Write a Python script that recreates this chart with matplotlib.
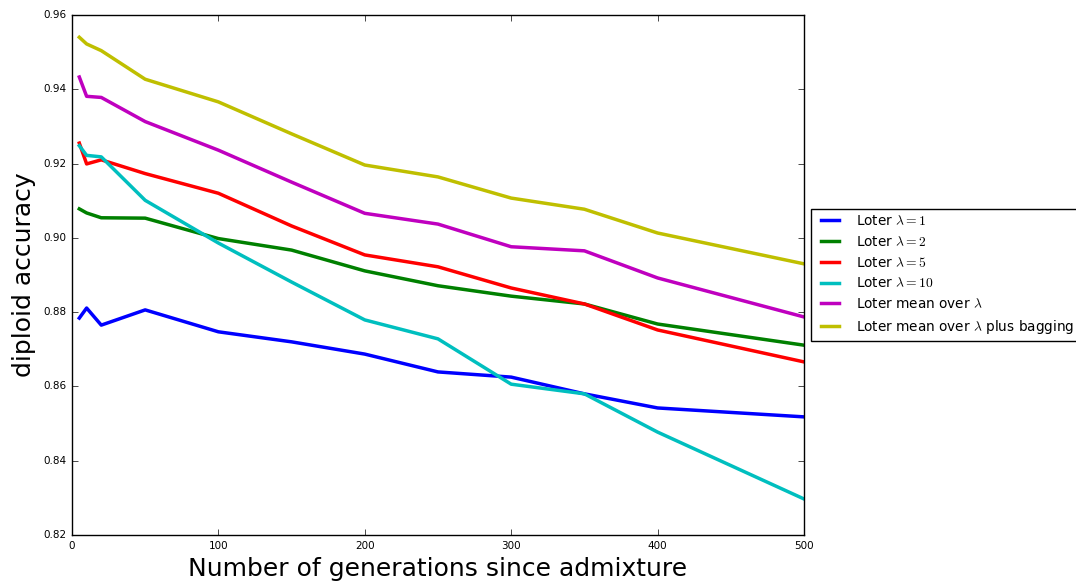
import matplotlib
matplotlib.use('Agg')
import matplotlib.pyplot as plt

plt.style.use('classic')

generations = [5, 10, 20, 50, 100, 150, 200, 250, 300, 350, 400, 500]

loter1 = [0.8784, 0.8811, 0.8765, 0.8806, 0.8747, 0.8720, 0.8687, 0.8639, 0.8625, 0.8580, 0.8542, 0.8518]
loter2 = [0.9078, 0.9067, 0.9054, 0.9053, 0.8998, 0.8967, 0.8911, 0.8871, 0.8843, 0.8822, 0.8768, 0.8711]
loter5 = [0.9255, 0.9199, 0.9210, 0.9173, 0.9120, 0.9032, 0.8954, 0.8922, 0.8865, 0.8822, 0.8752, 0.8666]
loter10 = [0.9248, 0.9222, 0.9218, 0.9101, 0.8986, 0.8881, 0.8779, 0.8728, 0.8606, 0.8580, 0.8477, 0.8297]
mean_l = [0.9433, 0.9381, 0.9378, 0.9313, 0.9236, 0.9150, 0.9066, 0.9037, 0.8976, 0.8965, 0.8892, 0.8787]
mean_bag = [0.9540, 0.9522, 0.9504, 0.9427, 0.9366, 0.9280, 0.9196, 0.9164, 0.9107, 0.9077, 0.9013, 0.8930]

fig = plt.figure(figsize=(10.76, 5.85), dpi=100, facecolor='white')
ax = fig.add_axes([0.0669, 0.0855, 0.6803, 0.8889])

ax.plot(generations, loter1, 'b', lw=2.5, label=r'Loter $\lambda = 1$')
ax.plot(generations, loter2, 'g', lw=2.5, label=r'Loter $\lambda = 2$')
ax.plot(generations, loter5, 'r', lw=2.5, label=r'Loter $\lambda = 5$')
ax.plot(generations, loter10, 'c', lw=2.5, label=r'Loter $\lambda = 10$')
ax.plot(generations, mean_l, 'm', lw=2.5, label=r'Loter mean over $\lambda$')
ax.plot(generations, mean_bag, 'y', lw=2.5, label=r'Loter mean over $\lambda$ plus bagging')

ax.set_xlim(0, 500)
ax.set_ylim(0.82, 0.96)
ax.set_xticks([0, 100, 200, 300, 400, 500])
ax.set_yticks([0.82, 0.84, 0.86, 0.88, 0.90, 0.92, 0.94, 0.96])
ax.tick_params(labelsize=7.5)
ax.set_xlabel('Number of generations since admixture', fontsize=18)
ax.set_ylabel('diploid accuracy', fontsize=18)

ax.legend(loc='center left', bbox_to_anchor=(1.01, 0.5), fontsize=9.8,
          handlelength=1.9, handletextpad=1.0, borderaxespad=0.)

fig.savefig('out.png', dpi=100, facecolor='white')
